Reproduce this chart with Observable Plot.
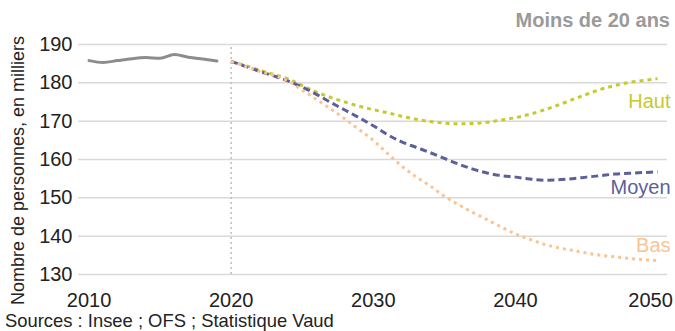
<!DOCTYPE html>
<html><head><meta charset="utf-8">
<script src="https://cdn.jsdelivr.net/npm/d3@7"></script>
<script src="https://cdn.jsdelivr.net/npm/@observablehq/plot@0.6"></script>
<style>
body{margin:0;background:#fff;font-family:"Liberation Sans",Arial,sans-serif;}
#wrap{position:relative;width:675px;height:331px;overflow:hidden;}
#title{position:absolute;right:5px;top:9px;font-size:20px;font-weight:bold;color:#9a9a9a;white-space:nowrap;}
#caption{position:absolute;left:5px;top:310px;font-size:18.4px;color:#222;white-space:nowrap;}
</style></head><body>
<div id="wrap"><div id="chart"></div><div id="title">Moins de 20 ans</div><div id="caption">Sources : Insee ; OFS ; Statistique Vaud</div></div>
<script>
const histYears = [2010,2011,2012,2013,2014,2015,2016,2017,2018,2019];
const histValues = [185.8,185.3,185.8,186.3,186.6,186.4,187.4,186.7,186.2,185.7];
const projYears = [2020,2021,2022,2023,2024,2025,2026,2027,2028,2029,2030,2031,2032,2033,2034,2035,2036,2037,2038,2039,2040,2041,2042,2043,2044,2045,2046,2047,2048,2049,2050];
const haut  = [185.6,184.5,183.3,182.2,181.0,179.3,177.6,176.2,175.0,173.9,173.0,172.2,171.3,170.5,169.9,169.5,169.3,169.4,169.7,170.3,170.9,171.8,172.9,174.2,175.6,177.0,178.3,179.3,180.1,180.6,181.1];
const moyen = [185.6,184.3,183.0,181.8,180.5,178.9,177.0,174.9,172.9,170.9,168.8,166.5,164.6,163.2,161.8,160.3,158.8,157.5,156.5,155.8,155.4,154.9,154.6,154.7,155.0,155.4,155.8,156.2,156.4,156.6,156.8];
const bas   = [185.6,184.3,183.0,182.0,180.5,178.1,175.7,173.2,170.6,167.8,165.0,161.6,158.3,155.5,153.1,150.4,148.2,146.2,144.3,142.4,140.6,139.2,137.9,137.0,136.3,135.6,135.0,134.6,134.2,133.9,133.6];
const scenarioNames = ["Haut","Moyen","Bas"];
const xTicks = [2010,2020,2030,2040];
const xTickLast = [2050];
const yTicks = [130,140,150,160,170,180,190];
const projectionStart = 2020;
const yLabel = "Nombre de personnes, en milliers";

const hist = histYears.map((y,i)=>({year:y, value:histValues[i]}));
const series = {Haut: haut, Moyen: moyen, Bas: bas};
const proj = scenarioNames.map(name => projYears.map((y,i)=>({year:y, value:series[name][i], name})));
const last = scenarioNames.map(name => ({name, year: projYears[projYears.length-1], value: series[name][series[name].length-1]}));

const colors = {Haut:"#c5ca2e", Moyen:"#5b5f9a", Bas:"#fbc391"};
const dashes = {Haut:"4,4", Moyen:"7,4", Bas:"3,4"};
const widths = {Haut:3, Moyen:3, Bas:3};
const labelDy = {Haut:23, Moyen:16, Bas:-15};

const chart = Plot.plot({
  width: 675, height: 331,
  marginLeft: 78, marginRight: 8, marginTop: 44, marginBottom: 57,
  style: {fontFamily: '"Liberation Sans", Arial, sans-serif', fontSize: "20px", color: "#222", background: "#fff"},
  x: {domain: [2009.26, 2050.7]},
  y: {domain: [130, 190]},
  marks: [
    Plot.gridY(yTicks, {stroke: "#d9d9d9", strokeOpacity: 1, strokeWidth: 1.5}),
    Plot.axisX(xTicks, {tickSize: 0, tickPadding: 18, label: null, fontSize: 20, fill: "#222", tickFormat: d => String(d)}),
    Plot.axisX(xTickLast, {tickSize: 0, tickPadding: 18, label: null, fontSize: 20, fill: "#222", dx: -7, tickFormat: d => String(d)}),
    Plot.axisY(yTicks, {tickSize: 0, tickPadding: 6, label: null, fontSize: 20, fill: "#222"}),
    Plot.ruleX([projectionStart], {y1: 130, y2: 190, stroke: "#bdbdbd", strokeWidth: 1.5, strokeDasharray: "2,3"}),
    Plot.line(hist, {x: "year", y: "value", stroke: "#8c8c8c", strokeWidth: 3, curve: "monotone-x"}),
    ...proj.map(d => Plot.line(d, {x: "year", y: "value", stroke: colors[d[0].name], strokeWidth: widths[d[0].name], strokeDasharray: dashes[d[0].name], strokeLinecap: "butt", curve: "monotone-x"})),
    ...last.map(d => Plot.text([d], {x: "year", y: "value", text: "name", fill: colors[d.name], fontSize: 20, textAnchor: "end", dx: 13, dy: labelDy[d.name]})),
    Plot.text([yLabel], {frameAnchor: "left", text: d => d, rotate: -90, textAnchor: "middle", dx: -60, dy: 11, fontSize: 18, fill: "#222"})
  ]
});
document.getElementById("chart").appendChild(chart);
</script>
</body></html>
